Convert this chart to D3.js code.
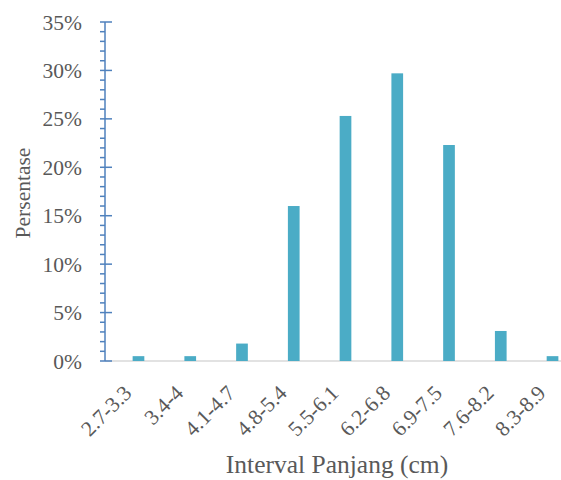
<!DOCTYPE html>
<html><head><meta charset="utf-8">
<script src="https://cdn.jsdelivr.net/npm/d3@7"></script>
<style>body{margin:0;background:#fff}</style>
</head><body>
<svg id="c" width="561" height="480"></svg>
<script>
const categories = ["2.7-3.3","3.4-4","4.1-4.7","4.8-5.4","5.5-6.1","6.2-6.8","6.9-7.5","7.6-8.2","8.3-8.9"];
const values = [0.5,0.5,1.8,16.0,25.3,29.7,22.3,3.1,0.5];
const yTicks = [0,5,10,15,20,25,30,35];

const svg = d3.select("#c");
const font = "'Liberation Serif','Times New Roman',serif";
const axisX = 105, y0 = 361, yTop = 22;
const x = d3.scaleBand().domain(categories).range([112.6, 578.4]).paddingInner(0.774).paddingOuter(0.387);
const y = d3.scaleLinear().domain([0,35]).range([y0, yTop]);

// baseline
svg.append("line").attr("x1",axisX).attr("x2",561).attr("y1",y0).attr("y2",y0)
  .attr("stroke","#D9D9D9").attr("stroke-width",1.5);

// bars
svg.selectAll("rect.bar").data(values).join("rect")
  .attr("x",(d,i)=>x(categories[i])).attr("width",x.bandwidth())
  .attr("y",d=>y(d)).attr("height",d=>y0-y(d)).attr("fill","#4BACC6");

// y axis line
const blue = "#4F81BD";
svg.append("line").attr("x1",axisX).attr("x2",axisX).attr("y1",yTop).attr("y2",y0)
  .attr("stroke",blue).attr("stroke-width",1.5);
// minor ticks
const minor = d3.range(0,36,1).filter(v=>v%5!==0);
svg.selectAll("line.mn").data(minor).join("line")
  .attr("x1",axisX-5).attr("x2",axisX).attr("y1",d=>y(d)).attr("y2",d=>y(d))
  .attr("stroke",blue).attr("stroke-width",1.5);
svg.selectAll("line.mj").data(yTicks).join("line")
  .attr("x1",axisX-5).attr("x2",axisX+7).attr("y1",d=>y(d)).attr("y2",d=>y(d))
  .attr("stroke",blue).attr("stroke-width",1.5);
svg.selectAll("text.yl").data(yTicks).join("text")
  .attr("x",82).attr("y",d=>y(d)).attr("dy","0.35em").attr("text-anchor","end")
  .attr("font-family",font).attr("font-size",21.5).attr("fill","#595959")
  .text(d=>d+"%");

// x labels
svg.selectAll("text.xl").data(categories).join("text")
  .attr("transform",d=>`translate(${x(d)+x.bandwidth()/2-11},${y0+28}) rotate(-45)`)
  .attr("text-anchor","end").attr("dy","0.35em")
  .attr("font-family",font).attr("font-size",21.5).attr("fill","#595959")
  .text(d=>d);

// titles
svg.append("text").attr("transform","translate(30,193) rotate(-90)").attr("text-anchor","middle")
  .attr("font-family",font).attr("font-size",21.5).attr("fill","#595959").text("Persentase");
svg.append("text").attr("x",337).attr("y",473).attr("text-anchor","middle")
  .attr("font-family",font).attr("font-size",25.5).attr("fill","#595959").text("Interval Panjang (cm)");
</script>
</body></html>
